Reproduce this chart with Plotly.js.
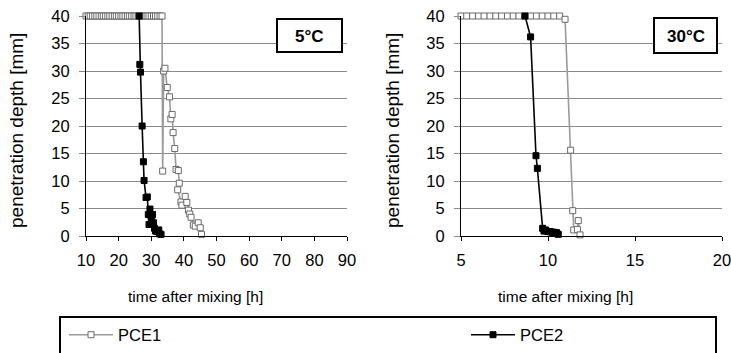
<!DOCTYPE html>
<html><head><meta charset="utf-8">
<script src="https://cdn.plot.ly/plotly-3.0.1.min.js"></script>
<style>body{margin:0;background:#fff}</style>
</head><body><div id="chart" style="width:731px;height:353px"></div>
<script>
// ---- data ----
const seriesNames = ['PCE1', 'PCE2'];
const panelLabels = ['5°C', '30°C'];
const xTitle = 'time after mixing [h]';
const yTitle = 'penetration depth [mm]';

// 5 °C panel
const pce1_5C_time  = [10, 10.7, 11.3, 12, 12.7, 13.3, 14, 14.7, 15.3, 16, 16.7, 17.3, 18, 18.7, 19.3, 20, 20.7, 21.3, 22, 22.7, 23.3, 24, 24.7, 25.3, 26, 26.7, 27.3, 28, 28.7, 29.3, 30, 30.7, 31.3, 32, 32.7, 33.3,
                       33.5, 33.8, 34.2, 34.9, 35.6, 36.0, 36.4, 36.7, 37.2, 37.6, 38.3, 38.6, 38.1, 39.1, 39.4, 40.4, 40.9, 41.4, 41.8, 42.2, 42.9, 43.5, 44.4, 45.0, 45.4];
const pce1_5C_depth = [40, 40, 40, 40, 40, 40, 40, 40, 40, 40, 40, 40, 40, 40, 40, 40, 40, 40, 40, 40, 40, 40, 40, 40, 40, 40, 40, 40, 40, 40, 40, 40, 40, 40, 40, 40,
                       11.8, 30.0, 30.5, 27.0, 25.3, 21.3, 22.1, 18.8, 15.9, 12.1, 11.9, 9.6, 8.4, 6.2, 5.6, 7.2, 6.1, 4.7, 4.0, 3.4, 2.0, 1.8, 2.4, 1.5, 0.3];
const pce2_5C_time  = [26.3, 26.5, 26.7, 27.2, 27.6, 27.8, 28.4, 28.8, 29.1, 29.3, 29.6, 30.0, 30.1, 30.4, 30.7, 31.0, 31.3, 31.8, 32.3, 32.5, 33.0];
const pce2_5C_depth = [40, 31.2, 29.8, 20.0, 13.5, 10.1, 7.0, 7.1, 3.9, 2.1, 4.9, 3.5, 2.6, 3.9, 2.4, 1.4, 0.9, 0.8, 1.1, 0.4, 0.3];

// 30 °C panel
const pce1_30C_time  = [5, 5.33, 5.67, 6, 6.33, 6.67, 7, 7.33, 7.67, 8, 8.33, 8.67, 9, 9.33, 9.67, 10, 10.33, 10.67,
                        10.98, 11.30, 11.42, 11.48, 11.69, 11.74, 11.84];
const pce1_30C_depth = [40, 40, 40, 40, 40, 40, 40, 40, 40, 40, 40, 40, 40, 40, 40, 40, 40, 40,
                        39.4, 15.6, 4.6, 1.1, 1.2, 2.8, 0.2];
const pce2_30C_time  = [8.68, 9.0, 9.31, 9.39, 9.69, 9.77, 9.85, 9.92, 10.02, 10.11, 10.2, 10.3, 10.4, 10.5, 10.59];
const pce2_30C_depth = [40, 36.2, 14.6, 12.3, 1.4, 0.9, 1.1, 0.9, 0.8, 0.8, 0.7, 0.7, 0.6, 0.6, 0.3];

const xTicks5C  = [10, 20, 30, 40, 50, 60, 70, 80, 90];
const xTicks30C = [5, 10, 15, 20];
const yTicks    = [0, 5, 10, 15, 20, 25, 30, 35, 40];

// ---- styles ----
const W = 731, H = 353;
const FONT = '"Liberation Sans", Arial, sans-serif';
const s1 = {
  mode: 'lines+markers',
  line: {color: '#9a9a9a', width: 1.6},
  marker: {symbol: 'square', size: 6, color: '#ffffff', line: {color: '#6a6a6a', width: 1}}
};
const s2 = {
  mode: 'lines+markers',
  line: {color: '#000000', width: 1.6},
  marker: {symbol: 'square', size: 6, color: '#000000', line: {color: '#000000', width: 1}}
};

const traces = [
  Object.assign({x: pce1_5C_time, y: pce1_5C_depth, name: seriesNames[0], xaxis: 'x', yaxis: 'y', showlegend: true, legend: 'legend', cliponaxis: false}, s1),
  Object.assign({x: pce2_5C_time, y: pce2_5C_depth, name: seriesNames[1], xaxis: 'x', yaxis: 'y', showlegend: true, legend: 'legend2', cliponaxis: false}, s2),
  Object.assign({x: pce1_30C_time, y: pce1_30C_depth, name: seriesNames[0], xaxis: 'x2', yaxis: 'y2', showlegend: false, cliponaxis: false}, s1),
  Object.assign({x: pce2_30C_time, y: pce2_30C_depth, name: seriesNames[1], xaxis: 'x2', yaxis: 'y2', showlegend: false, cliponaxis: false}, s2)
];

const yDom = [(H - 236) / H, (H - 16) / H];
const xAx = (dom, rng, ticks) => ({
  domain: dom, range: rng, tickvals: ticks, ticks: 'outside', ticklen: 4, tickcolor: '#000',
  showline: true, linecolor: '#000', linewidth: 1, showgrid: false, zeroline: false,
  tickfont: {size: 16.5, color: '#000'}, ticklabelstandoff: 5, ticklabeloverflow: 'allow',
  fixedrange: true, automargin: false
});
const yAx = (anchor) => ({
  domain: yDom, range: [0, 40], tickvals: yTicks, anchor: anchor, ticks: 'outside', ticklen: 6, tickcolor: '#888',
  showline: true, linecolor: '#000', linewidth: 1, showgrid: true, gridcolor: '#8a8a8a', gridwidth: 1,
  zeroline: false, tickfont: {size: 16.5, color: '#000'}, ticklabelstandoff: 6, fixedrange: true, automargin: false
});
const legBase = {
  orientation: 'h', xanchor: 'left', y: (H - 335) / H, yanchor: 'middle',
  font: {size: 16.5, color: '#000'}, bgcolor: 'rgba(0,0,0,0)', borderwidth: 0, itemwidth: 44
};

const layout = {
  width: W, height: H,
  margin: {l: 0, r: 0, t: 0, b: 0},
  paper_bgcolor: '#fff', plot_bgcolor: '#fff',
  font: {family: FONT, color: '#000'},
  xaxis: Object.assign(xAx([86 / W, 347 / W], [10, 90], xTicks5C), {anchor: 'y'}),
  yaxis: yAx('x'),
  xaxis2: Object.assign(xAx([461 / W, 722 / W], [5, 20], xTicks30C), {anchor: 'y2'}),
  yaxis2: yAx('x2'),
  showlegend: true,
  legend: Object.assign({x: 64 / W}, legBase),
  legend2: Object.assign({x: 466 / W}, legBase),
  shapes: [
    {type: 'rect', xref: 'paper', yref: 'paper', x0: 60 / W, x1: 716 / W, y0: -0.2, y1: (H - 317) / H, line: {color: '#000', width: 2}},
    {type: 'rect', xref: 'paper', yref: 'paper', x0: 277 / W, x1: 342 / W, y0: (H - 52) / H, y1: (H - 19) / H, line: {color: '#000', width: 2}, fillcolor: '#fff', layer: 'above'},
    {type: 'rect', xref: 'paper', yref: 'paper', x0: 654 / W, x1: 717 / W, y0: (H - 53) / H, y1: (H - 18) / H, line: {color: '#000', width: 2}, fillcolor: '#fff', layer: 'above'}
  ],
  annotations: [
    {text: '<b>' + panelLabels[0] + '</b>', xref: 'paper', yref: 'paper', x: 309.5 / W, y: (H - 36) / H, showarrow: false, font: {size: 17}, xanchor: 'center', yanchor: 'middle'},
    {text: '<b>' + panelLabels[1] + '</b>', xref: 'paper', yref: 'paper', x: 685.5 / W, y: (H - 36) / H, showarrow: false, font: {size: 17}, xanchor: 'center', yanchor: 'middle'},
    {text: xTitle, xref: 'paper', yref: 'paper', x: 195 / W, y: (H - 296) / H, showarrow: false, font: {size: 15.5}, xanchor: 'center', yanchor: 'middle'},
    {text: xTitle, xref: 'paper', yref: 'paper', x: 565 / W, y: (H - 296) / H, showarrow: false, font: {size: 15.5}, xanchor: 'center', yanchor: 'middle'},
    {text: yTitle, xref: 'paper', yref: 'paper', x: 16 / W, y: (H - 131) / H, showarrow: false, textangle: -90, font: {size: 19}, xanchor: 'center', yanchor: 'middle'},
    {text: yTitle, xref: 'paper', yref: 'paper', x: 392 / W, y: (H - 131) / H, showarrow: false, textangle: -90, font: {size: 19}, xanchor: 'center', yanchor: 'middle'}
  ]
};

Plotly.newPlot('chart', traces, layout, {displayModeBar: false, staticPlot: true});
</script>
</body></html>
